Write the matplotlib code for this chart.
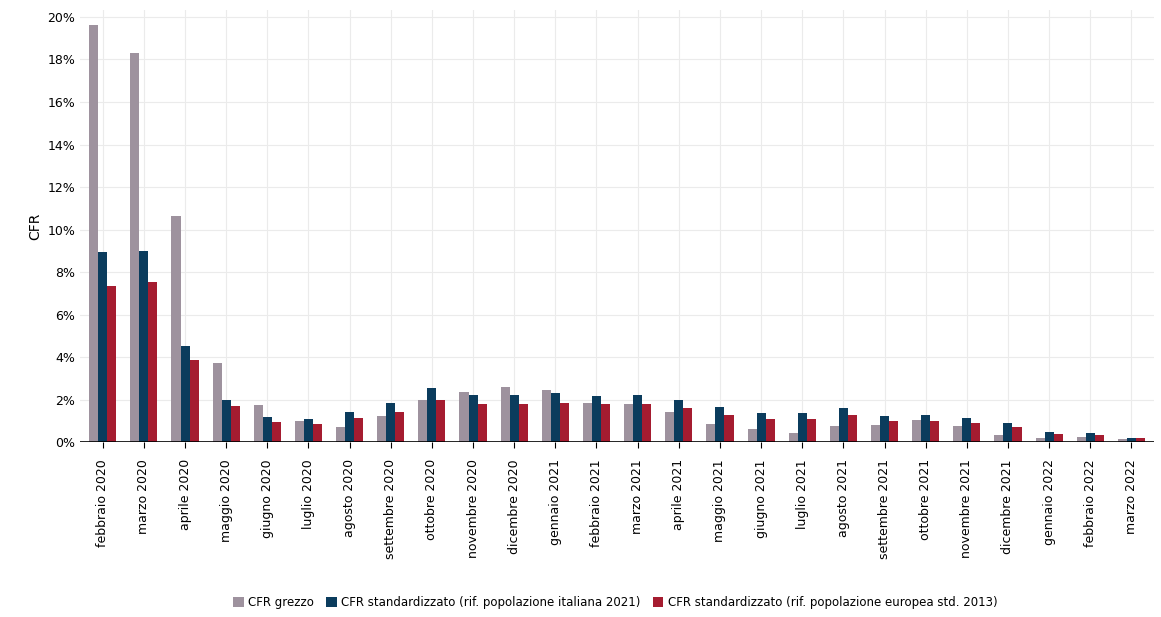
import matplotlib
matplotlib.use("Agg")
import matplotlib.pyplot as plt
import numpy as np

months = ["febbraio 2020", "marzo 2020", "aprile 2020", "maggio 2020", "giugno 2020",
          "luglio 2020", "agosto 2020", "settembre 2020", "ottobre 2020", "novembre 2020",
          "dicembre 2020", "gennaio 2021", "febbraio 2021", "marzo 2021", "aprile 2021",
          "maggio 2021", "giugno 2021", "luglio 2021", "agosto 2021", "settembre 2021",
          "ottobre 2021", "novembre 2021", "dicembre 2021", "gennaio 2022", "febbraio 2022",
          "marzo 2022"]
cfr_grezzo = [19.6, 18.3, 10.65, 3.75, 1.75, 1.0, 0.7, 1.25, 2.0, 2.35, 2.6, 2.45, 1.85,
              1.8, 1.45, 0.85, 0.65, 0.45, 0.75, 0.8, 1.05, 0.75, 0.35, 0.2, 0.25, 0.15]
cfr_ita = [8.95, 9.0, 4.55, 2.0, 1.2, 1.1, 1.45, 1.85, 2.55, 2.25, 2.25, 2.3, 2.2,
           2.25, 2.0, 1.65, 1.4, 1.4, 1.6, 1.25, 1.3, 1.15, 0.9, 0.5, 0.45, 0.2]
cfr_eur = [7.35, 7.55, 3.85, 1.7, 0.95, 0.85, 1.15, 1.45, 2.0, 1.8, 1.8, 1.85, 1.8,
           1.8, 1.6, 1.3, 1.1, 1.1, 1.3, 1.0, 1.0, 0.9, 0.7, 0.4, 0.35, 0.2]

labels = ["CFR grezzo",
          "CFR standardizzato (rif. popolazione italiana 2021)",
          "CFR standardizzato (rif. popolazione europea std. 2013)"]
colors = ["#9E929E", "#0B3C5D", "#A51C30"]

fig = plt.figure(figsize=(11.61, 6.17), dpi=100)
ax = fig.add_axes([0.069, 0.283, 0.925, 0.7])

x = np.arange(len(months))
w = 0.22
for i, (vals, lab, c) in enumerate(zip([cfr_grezzo, cfr_ita, cfr_eur], labels, colors)):
    ax.bar(x + (i - 1) * w, vals, w, color=c, label=lab, zorder=3)

ax.set_xlim(-0.55, len(months) - 0.45)
ax.set_ylim(0, 20.3)
ax.set_yticks(np.arange(0, 21, 2))
ax.set_yticklabels([f"{v}%" for v in range(0, 21, 2)])
ax.set_xticks(x)
ax.set_xticklabels(months, rotation=90)
ax.set_ylabel("CFR", fontsize=10)
ax.grid(True, color="#EBEBEB", linewidth=0.8, zorder=0)
for s in ax.spines.values():
    s.set_visible(False)
ax.axhline(0, color="black", linewidth=1.2, zorder=4)
ax.tick_params(axis="both", length=0, labelsize=9, colors="black")
ax.tick_params(axis="x", length=4, pad=8)

fig.legend(loc="lower center", ncol=3, frameon=False, fontsize=8.5,
           bbox_to_anchor=(0.53, -0.005), handlelength=0.9, handleheight=0.9,
           columnspacing=1.0, handletextpad=0.4)

fig.savefig("out.png", dpi=100, facecolor="white")
